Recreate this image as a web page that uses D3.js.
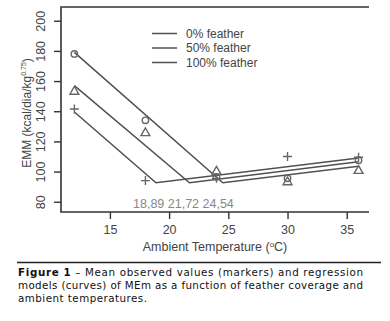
<!DOCTYPE html>
<html>
<head>
<meta charset="utf-8">
<script src="https://cdn.jsdelivr.net/npm/d3@7"></script>
<style>
html,body{margin:0;padding:0;background:#fff;}
svg{display:block;}
</style>
</head>
<body>
<svg id="chart" width="390" height="321"></svg>
<script>
// ---- data ----
const temps = [12, 18, 24, 30, 36];
const obs0 = [178, 134, 96.5, 95.5, 107.5];     // 0% feather (circles)
const obs50 = [153, 125.5, 100, 93, 100.5];     // 50% feather (triangles)
const obs100 = [141.5, 94, 95.5, 110, 109.5];   // 100% feather (plus)
const breakX = [24.54, 21.72, 18.89];           // breakpoints 0%, 50%, 100%
const model0 = [[12, 179], [24.54, 92.6], [36, 103.5]];
const model50 = [[12, 157], [21.72, 92.6], [36, 106.5]];
const model100 = [[12, 139.5], [18.89, 92.6], [36, 109]];
const seriesNames = ["0% feather", "50% feather", "100% feather"];
const xTicks = [15, 20, 25, 30, 35];
const yTicks = [80, 100, 120, 140, 160, 180, 200];
const breakLabel = "18,89 21,72 24,54";
const captionLines = [
  ["Figure 1", " – Mean observed values (markers) and regression"],
  ["", "models (curves) of MEm as a function of feather coverage and"],
  ["", "ambient temperatures."]
];

// ---- layout ----
const svg = d3.select("#chart");
const font = "'Liberation Sans', Arial, Helvetica, sans-serif";
const L = 61, R = 369, T = 7, B = 212;
const x = d3.scaleLinear().domain([10.87, 36.88]).range([L, R]);
const y = d3.scaleLinear().domain([73.2, 209.1]).range([B, T]);
const axisCol = "#333", lineCol = "#505050", markCol = "#666";

// frame (left, top, bottom)
svg.append("path")
  .attr("d", `M${R},${T}H${L}V${B}H${R}`)
  .attr("fill", "none").attr("stroke", axisCol).attr("stroke-width", 1.6);

// y axis
const gy = svg.append("g").attr("transform", `translate(${L},0)`)
  .call(d3.axisLeft(y).tickValues(yTicks).tickSize(7).tickPadding(0));
gy.select(".domain").remove();
gy.selectAll("line").attr("stroke", axisCol).attr("stroke-width", 1.4);
gy.selectAll("text")
  .attr("x", 0).attr("dy", 0)
  .attr("transform", "translate(-16.5,0) rotate(-90)")
  .attr("text-anchor", "middle")
  .attr("font-family", font).attr("font-size", 12.5).attr("fill", "#444");

// x axis
const gx = svg.append("g").attr("transform", `translate(0,${B})`)
  .call(d3.axisBottom(x).tickValues(xTicks).tickSize(7).tickPadding(6));
gx.select(".domain").remove();
gx.selectAll("line").attr("stroke", axisCol).attr("stroke-width", 1.4);
gx.selectAll("text").attr("dy", "0.71em")
  .attr("font-family", font).attr("font-size", 12.5).attr("fill", "#444");

// axis titles
const xl = svg.append("text").attr("x", 215).attr("y", 251)
  .attr("text-anchor", "middle").attr("font-family", font)
  .attr("font-size", 12.5).attr("fill", "#444");
xl.append("tspan").text("Ambient Temperature (");
xl.append("tspan").attr("font-size", 8).attr("dy", -4).text("o");
xl.append("tspan").attr("dy", 4).text("C)");

const yl = svg.append("text")
  .attr("transform", "translate(31,113) rotate(-90)")
  .attr("text-anchor", "middle").attr("font-family", font)
  .attr("font-size", 12).attr("fill", "#444");
yl.append("tspan").text("EMM (kcal/dia/kg");
yl.append("tspan").attr("font-size", 7).attr("dy", -5).text("0.75");
yl.append("tspan").attr("dy", 5).text(")");

// breakpoint annotation
svg.append("text").attr("x", 133).attr("y", 208)
  .attr("font-family", font).attr("font-size", 12.5).attr("fill", "#888")
  .text(breakLabel);

// model lines
const line = d3.line().x(d => x(d[0])).y(d => y(d[1]));
[model0, model50, model100].forEach(m => {
  svg.append("path").attr("d", line(m))
    .attr("fill", "none").attr("stroke", lineCol).attr("stroke-width", 1.5);
});

// markers
const mg = svg.append("g").attr("fill", "none").attr("stroke", markCol).attr("stroke-width", 1.4);
mg.selectAll("circle.c0").data(temps.map((t, i) => [t, obs0[i]])).enter()
  .append("circle").attr("cx", d => x(d[0])).attr("cy", d => y(d[1])).attr("r", 3.2);
const tri = d3.symbol().type(d3.symbolTriangle).size(34);
mg.selectAll("path.t50").data(temps.map((t, i) => [t, obs50[i]])).enter()
  .append("path").attr("d", tri)
  .attr("transform", d => `translate(${x(d[0])},${y(d[1])})`);
mg.selectAll("path.p100").data(temps.map((t, i) => [t, obs100[i]])).enter()
  .append("path").attr("d", "M-4.5,0H4.5M0,-4.5V4.5")
  .attr("transform", d => `translate(${x(d[0])},${y(d[1])})`);

// legend
const legY = [33.5, 48, 62.5];
seriesNames.forEach((n, i) => {
  svg.append("line").attr("x1", 152).attr("x2", 177)
    .attr("y1", legY[i]).attr("y2", legY[i])
    .attr("stroke", lineCol).attr("stroke-width", 1.5);
  svg.append("text").attr("x", 186).attr("y", legY[i] + 4.3)
    .attr("font-family", font).attr("font-size", 12).attr("fill", "#444").text(n);
});

// caption
svg.append("line").attr("x1", 17).attr("x2", 381).attr("y1", 262.5).attr("y2", 262.5)
  .attr("stroke", "#222").attr("stroke-width", 1.5);
const capFont = "'DejaVu Sans', sans-serif";
const capY = [276, 289, 302];
const capLen = [345, 345, 129];
captionLines.forEach((parts, i) => {
  const t = svg.append("text").attr("x", 18).attr("y", capY[i])
    .attr("font-family", capFont).attr("font-size", 10.3).attr("fill", "#111")
    .attr("textLength", capLen[i]).attr("lengthAdjust", "spacing");
  if (parts[0]) t.append("tspan").attr("font-weight", "bold").text(parts[0]);
  t.append("tspan").text(parts[1]);
});
</script>
</body>
</html>
